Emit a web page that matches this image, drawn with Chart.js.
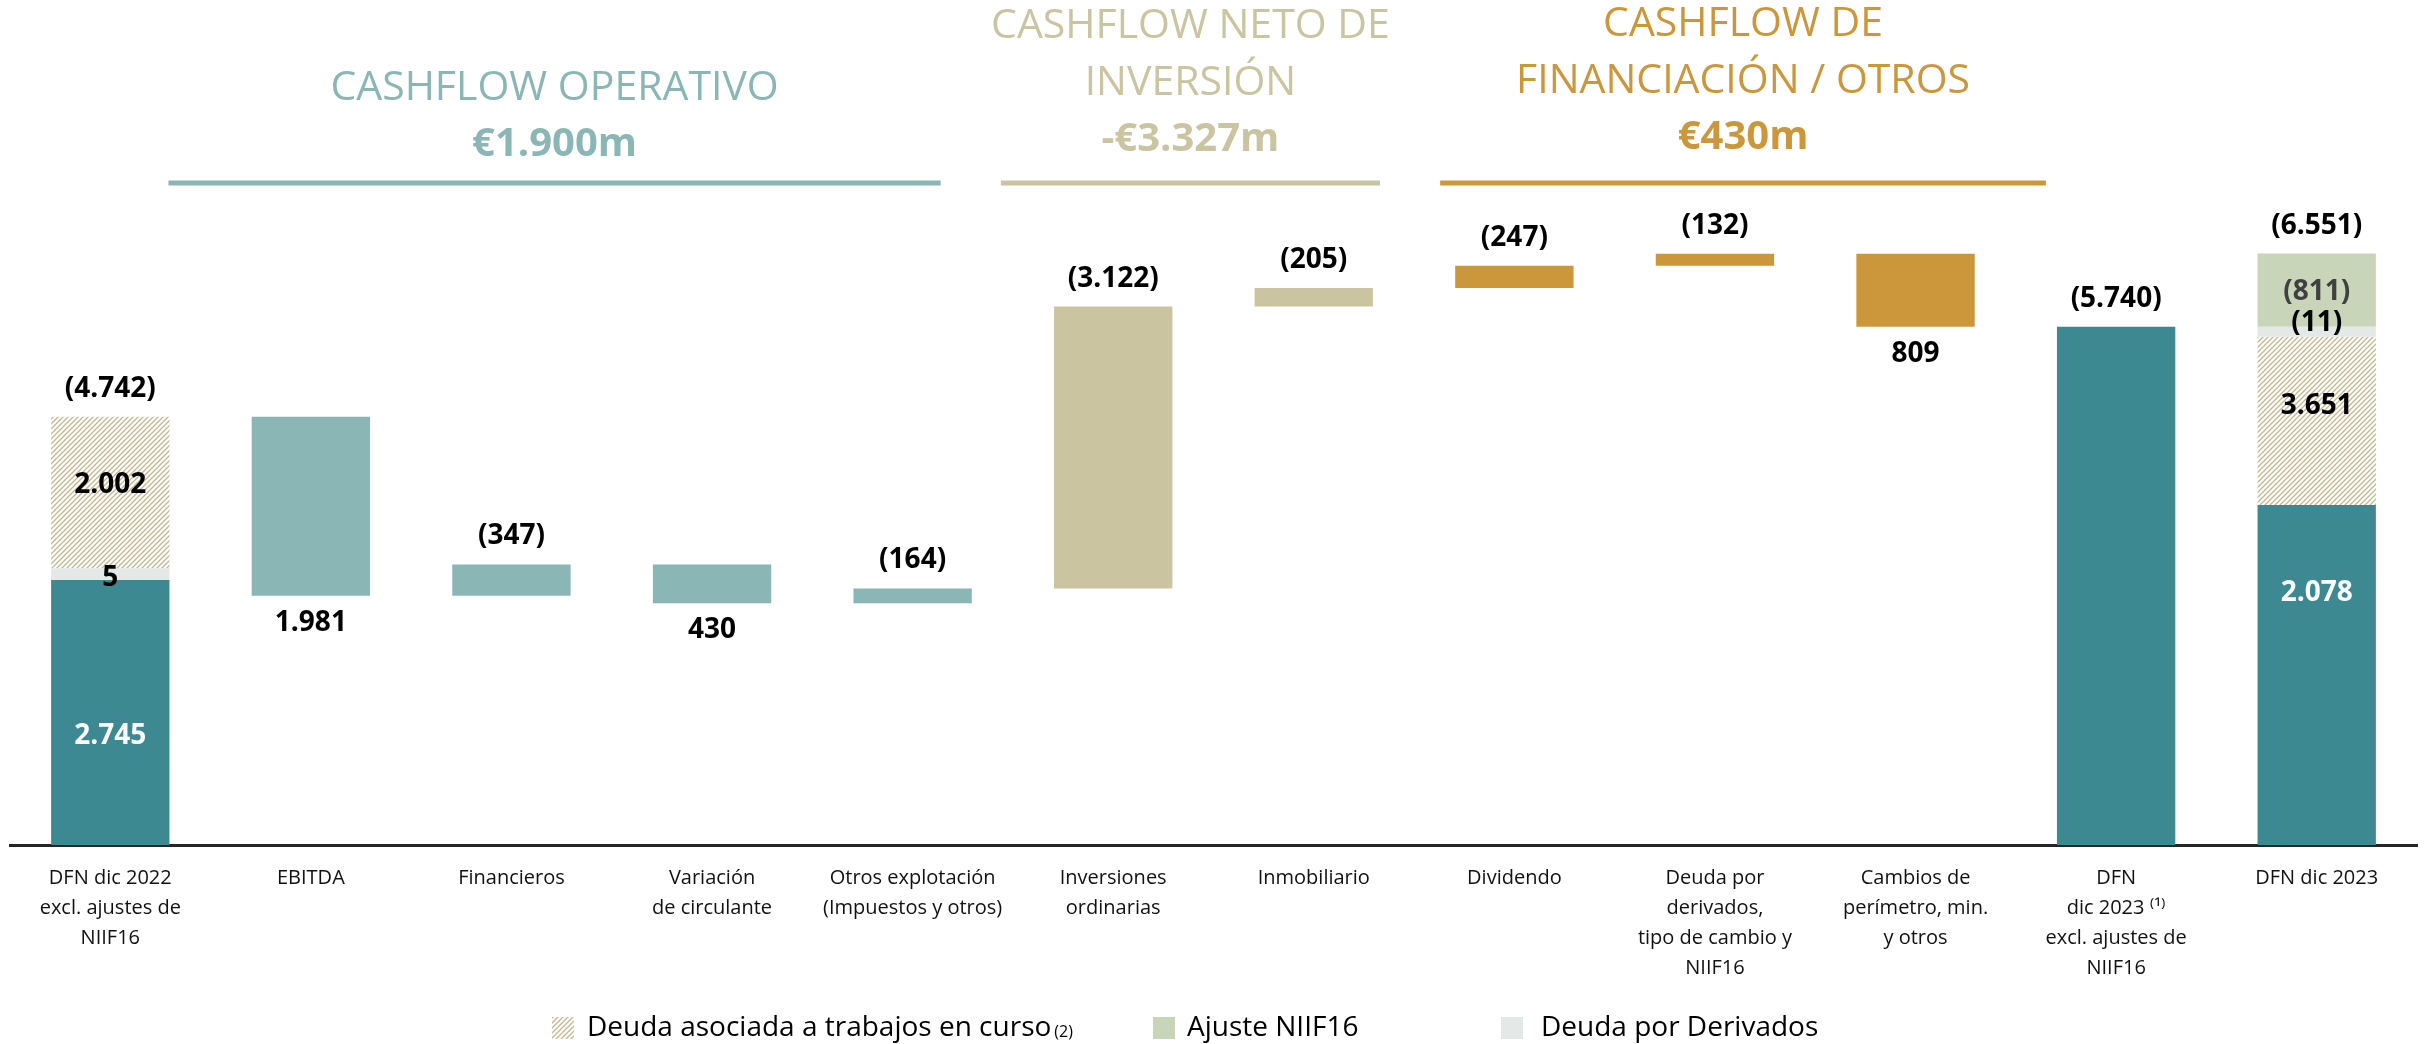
<!DOCTYPE html>
<html>
<head>
<meta charset="utf-8">
<script src="https://cdn.jsdelivr.net/npm/chart.js@4.4.0/dist/chart.umd.min.js"></script>
<style>
  html, body { margin: 0; padding: 0; background: #fff; }
  #wrap { width: 2424px; height: 1044px; position: relative; }
</style>
</head>
<body>
<div id="wrap"><canvas id="chart"></canvas></div>
<script>
// --- data ---
const categories = [
  ['DFN dic 2022', 'excl. ajustes de', 'NIIF16'],
  ['EBITDA'],
  ['Financieros'],
  ['Variación', 'de circulante'],
  ['Otros explotación', '(Impuestos y otros)'],
  ['Inversiones', 'ordinarias'],
  ['Inmobiliario'],
  ['Dividendo'],
  ['Deuda por', 'derivados,', 'tipo de cambio y', 'NIIF16'],
  ['Cambios de', 'perímetro, min.', 'y otros'],
  ['DFN', 'dic 2023 ⁽¹⁾', 'excl. ajustes de', 'NIIF16'],
  ['DFN dic 2023']
];

const openingDebt = 4742;
// change in debt per step (+ = more debt)
const flows = [null, -1981, 347, -430, 164, 3122, 205, 247, 132, -809, null, null];
const flowGroup = [null, 0, 0, 0, 0, 1, 1, 2, 2, 2, null, null];
const closingDebtExcl = 5740;

const valueLabels = ['(4.742)', '1.981', '(347)', '430', '(164)', '(3.122)', '(205)', '(247)', '(132)', '809', '(5.740)', '(6.551)'];

// stacked bars as drawn: base, derivados, trabajos en curso
const stack2022 = [2935, 130, 1677];
const stack2022Labels = ['2.745', '5', '2.002'];
// base, trabajos en curso, derivados, ajuste NIIF16
const stack2023 = [3765, 1864, 111, 811];
const stack2023Labels = ['2.078', '3.651', '(11)', '(811)'];

const groupTitles = [['CASHFLOW OPERATIVO'], ['CASHFLOW NETO DE', 'INVERSIÓN'], ['CASHFLOW DE', 'FINANCIACIÓN / OTROS']];
const groupTotals = ['€1.900m', '-€3.327m', '€430m'];

const legendNames = ['Deuda asociada a trabajos en curso', 'Ajuste NIIF16', 'Deuda por Derivados'];

// --- styling ---
const DARK_TEAL = '#3d8992';
const groupColors = ['#8ab6b6', '#cbc4a1', '#cc973a'];
const NIIF_GREEN = '#c8d5b9';
const DERIV_GRAY = '#e4e9e7';
const HATCH_LINE = '#c4b68c';

Chart.defaults.font.family = "'Open Sans', sans-serif";

function makeHatch(size) {
  const c = document.createElement('canvas');
  c.width = size; c.height = size;
  const g = c.getContext('2d');
  g.fillStyle = '#fff';
  g.fillRect(0, 0, size, size);
  g.strokeStyle = HATCH_LINE;
  g.lineWidth = 1.3;
  g.beginPath();
  g.moveTo(0, size); g.lineTo(size, 0);
  g.moveTo(-1, 1); g.lineTo(1, -1);
  g.moveTo(size - 1, size + 1); g.lineTo(size + 1, size - 1);
  g.stroke();
  return g.createPattern(c, 'repeat');
}
const hatch = makeHatch(5);

// --- build floating bars ---
const n = categories.length;
const empty = () => new Array(n).fill(null);
const baseData = empty();
const groupData = [empty(), empty(), empty()];
const derivData = empty();
const wipData = empty();
const niifData = empty();
const barLow = empty();
const barHigh = empty();

baseData[0] = [0, stack2022[0]];
derivData[0] = [stack2022[0], stack2022[0] + stack2022[1]];
wipData[0] = [stack2022[0] + stack2022[1], openingDebt];
barLow[0] = 0; barHigh[0] = openingDebt;

let running = openingDebt;
for (let i = 1; i < n; i++) {
  if (flows[i] === null) continue;
  const next = running + flows[i];
  const lo = Math.min(running, next), hi = Math.max(running, next);
  groupData[flowGroup[i]][i] = [lo, hi];
  barLow[i] = lo; barHigh[i] = hi;
  running = next;
}

baseData[10] = [0, closingDebtExcl];
barLow[10] = 0; barHigh[10] = closingDebtExcl;

let acc = 0;
const seg2023 = stack2023.map(v => { const s = [acc, acc + v]; acc += v; return s; });
baseData[11] = seg2023[0];
wipData[11] = seg2023[1];
derivData[11] = seg2023[2];
niifData[11] = seg2023[3];
barLow[11] = 0; barHigh[11] = acc;

// --- overlay: labels, headers, legend ---
const frac2022 = [0.41, 0.2, 0.55];
const frac2023 = [0.74, 0.59, 1.4, 0.48];
const labelColor2022 = ['#fff', '#000', '#000'];
const labelColor2023 = ['#fff', '#000', '#000', '#404040'];
const groupSpan = [[0.29, 4.14], [4.44, 6.33], [6.63, 9.65]];

const overlay = {
  id: 'overlay',
  afterDatasetsDraw(chart) {
    const { ctx, scales: { x, y } } = chart;
    ctx.save();
    ctx.textAlign = 'center';
    ctx.textBaseline = 'middle';
    ctx.font = 'bold 28px "Open Sans"';

    // outer labels
    for (let i = 0; i < n; i++) {
      const cx = x.getPixelForValue(i);
      const below = flows[i] !== null && flows[i] < 0;
      const py = below ? y.getPixelForValue(barLow[i]) + 27 : y.getPixelForValue(barHigh[i]) - 28;
      ctx.fillStyle = '#000';
      ctx.fillText(valueLabels[i], cx, py);
    }

    // inner labels of stacked bars
    const drawStack = (idx, vals, labels, fracs, colors) => {
      let b = 0;
      vals.forEach((v, k) => {
        const py = y.getPixelForValue(b + v * fracs[k]);
        ctx.fillStyle = colors[k];
        ctx.fillText(labels[k], x.getPixelForValue(idx), py);
        b += v;
      });
    };
    drawStack(0, stack2022, stack2022Labels, frac2022, labelColor2022);
    drawStack(11, stack2023, stack2023Labels, frac2023, labelColor2023);

    // group headers
    groupTitles.forEach((lines, g) => {
      const x0 = x.getPixelForValue(groupSpan[g][0]);
      const x1 = x.getPixelForValue(groupSpan[g][1]);
      const cx = (x0 + x1) / 2;
      ctx.fillStyle = groupColors[g];
      ctx.strokeStyle = groupColors[g];
      ctx.lineWidth = 5;
      ctx.beginPath();
      ctx.moveTo(x0, 183); ctx.lineTo(x1, 183);
      ctx.stroke();
      const totalY = [145, 140, 138][g];
      ctx.font = 'bold 40px "Open Sans"';
      ctx.fillText(groupTotals[g], cx, totalY);
      ctx.font = '41px "Open Sans"';
      lines.forEach((t, k) => {
        ctx.fillText(t, cx, totalY - 57 * (lines.length - k));
      });
    });

    // legend
    const ly = 1028;
    ctx.textAlign = 'left';
    ctx.font = '28px "Open Sans"';
    const items = [
      { fill: hatch, box: 552, text: 587 },
      { fill: NIIF_GREEN, box: 1153, text: 1187 },
      { fill: DERIV_GRAY, box: 1501, text: 1541 }
    ];
    items.forEach((it, k) => {
      ctx.fillStyle = it.fill;
      ctx.fillRect(it.box, ly - 11, 22, 22);
      ctx.fillStyle = '#000';
      ctx.fillText(legendNames[k], it.text, ly);
      if (k === 0) {
        const w = ctx.measureText(legendNames[k]).width;
        ctx.font = '16px "Open Sans"';
        ctx.fillText('(2)', it.text + w + 3, ly + 4);
        ctx.font = '28px "Open Sans"';
      }
    });
    ctx.restore();
  }
};

const common = { grouped: false, barPercentage: 0.59, categoryPercentage: 1, borderWidth: 0 };

new Chart(document.getElementById('chart'), {
  type: 'bar',
  data: {
    labels: categories,
    datasets: [
      { label: 'DFN', data: baseData, backgroundColor: DARK_TEAL, ...common },
      { label: 'Cashflow operativo', data: groupData[0], backgroundColor: groupColors[0], ...common },
      { label: 'Cashflow neto de inversión', data: groupData[1], backgroundColor: groupColors[1], ...common },
      { label: 'Cashflow de financiación', data: groupData[2], backgroundColor: groupColors[2], ...common },
      { label: legendNames[2], data: derivData, backgroundColor: DERIV_GRAY, ...common },
      { label: legendNames[0], data: wipData, backgroundColor: hatch, ...common },
      { label: legendNames[1], data: niifData, backgroundColor: NIIF_GREEN, ...common }
    ]
  },
  options: {
    responsive: true,
    maintainAspectRatio: false,
    animation: false,
    layout: { padding: { top: 213, left: 10, right: 7, bottom: 19 } },
    plugins: { legend: { display: false }, tooltip: { enabled: false } },
    scales: {
      x: {
        grid: { display: false },
        border: { display: true, color: '#262626', width: 3 },
        ticks: {
          color: '#111',
          font: { size: 20, lineHeight: 1.5 },
          padding: 10,
          maxRotation: 0,
          autoSkip: false
        },
        afterFit(scale) { scale.height = 180; }
      },
      y: {
        display: false,
        min: 0,
        max: 7000
      }
    }
  },
  plugins: [overlay]
});
</script>
</body>
</html>
